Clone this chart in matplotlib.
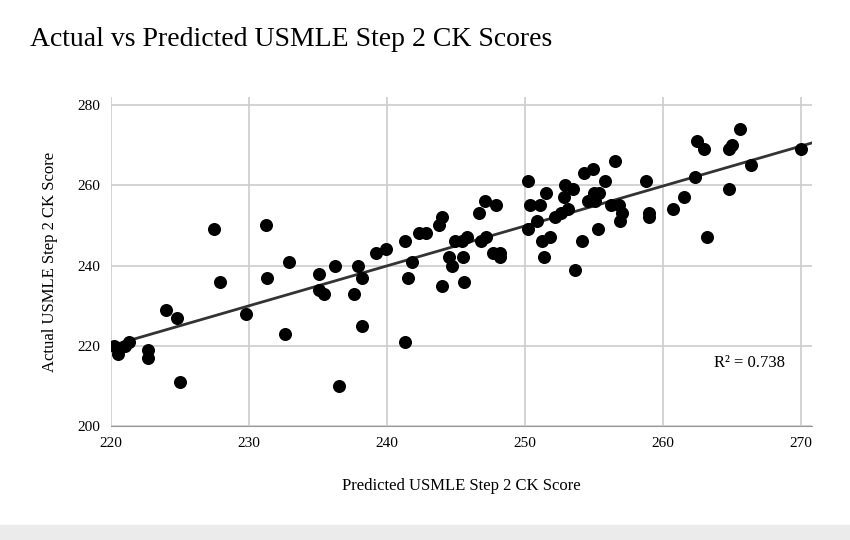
import matplotlib.pyplot as plt
import numpy as np

# predicted vs actual scores
predicted = [220.2, 220.5, 221.0, 221.3, 222.7, 222.7, 224.0, 224.8, 225.0, 227.5,
             227.9, 229.8, 231.2, 231.3, 232.6, 232.9, 235.1, 235.1, 235.4, 236.2,
             236.5, 237.6, 237.9, 238.2, 238.2, 239.2, 239.9, 241.3, 241.3, 241.5,
             241.8, 242.3, 242.8, 243.8, 244.0, 244.0, 244.5, 244.7, 244.9, 245.4,
             245.5, 245.6, 245.8, 246.7, 246.8, 247.1, 247.2, 247.7, 247.9, 248.2,
             248.2, 250.2, 250.2, 250.4, 250.9, 251.1, 251.2, 251.4, 251.5, 251.8,
             252.2, 252.6, 252.9, 253.1, 252.8, 253.5, 253.6, 254.1, 254.3, 254.6,
             254.9, 255.0, 255.1, 255.3, 255.4, 255.8, 256.2, 256.5, 256.8, 256.9,
             257.0, 258.8, 259.0, 259.0, 260.7, 261.5, 262.3, 262.5, 263.0, 263.2,
             264.8, 264.8, 265.0, 265.6, 266.4, 270.0]
actual = [220, 218, 220, 221, 219, 217, 229, 227, 211, 249,
          236, 228, 250, 237, 223, 241, 238, 234, 233, 240,
          210, 233, 240, 237, 225, 243, 244, 221, 246, 237,
          241, 248, 248, 250, 252, 235, 242, 240, 246, 246,
          242, 236, 247, 253, 246, 256, 247, 243, 255, 243,
          242, 261, 249, 255, 251, 255, 246, 242, 258, 247,
          252, 253, 260, 254, 257, 259, 239, 246, 263, 256,
          264, 258, 256, 249, 258, 261, 255, 266, 255, 251,
          253, 261, 252, 253, 254, 257, 262, 271, 269, 247,
          269, 259, 270, 274, 265, 269]

x = np.array(predicted)
y = np.array(actual)
slope, intercept = np.polyfit(x, y, 1)

fig = plt.figure(figsize=(8.5, 5.4), dpi=100)
fig.patches.append(plt.Rectangle((0, 0), 1, 0.028, transform=fig.transFigure,
                                 color='#ebebeb', zorder=-1))
ax = fig.add_axes([111/850, 1 - 426/540, (812 - 111)/850, (426 - 97)/540])
ax.scatter(x, y, s=70, color='black', zorder=3)
xs = np.array([220, 271])
ax.plot(xs, slope*xs + intercept, color='#333333', lw=2, zorder=2)

ax.set_xlim(220, 270.8)
ax.set_ylim(200, 282)
ax.set_xticks([220, 230, 240, 250, 260, 270])
ax.set_yticks([200, 220, 240, 260, 280])
ax.grid(True, color='#cccccc', lw=1.2)
ax.set_axisbelow(True)
for s in ax.spines.values():
    s.set_visible(False)
ax.spines['bottom'].set_visible(True)
ax.spines['bottom'].set_color('#999999')
ax.tick_params(length=0, labelsize=11, pad=8)
for t in ax.get_xticklabels() + ax.get_yticklabels():
    t.set_fontfamily('Liberation Serif')

ax.set_xlabel('Predicted USMLE Step 2 CK Score', fontfamily='Liberation Serif',
              fontsize=12, labelpad=20)
ax.set_ylabel('Actual USMLE Step 2 CK Score', fontfamily='Liberation Serif',
              fontsize=12, labelpad=14)
ax.text(0.86, 0.18, 'R² = 0.738', transform=ax.transAxes,
        fontfamily='Liberation Serif', fontsize=12)
fig.text(30/850, 1 - 40/540, 'Actual vs Predicted USMLE Step 2 CK Scores',
         fontfamily='Liberation Serif', fontsize=20, va='center')

fig.savefig('out.png', dpi=100)
